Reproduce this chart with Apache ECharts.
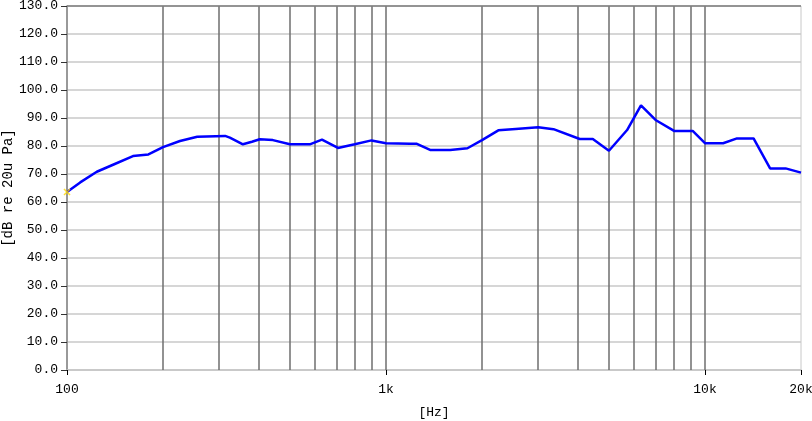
<!DOCTYPE html>
<html>
<head>
<meta charset="utf-8">
<script src="https://cdn.jsdelivr.net/npm/echarts@6/dist/echarts.min.js"></script>
<style>html,body{margin:0;padding:0;background:#fff}#c{width:812px;height:421px}</style>
</head>
<body>
<div id="c"></div>
<script>
const freqs = [100, 110, 124, 140, 161, 180, 200, 226, 256, 313, 324, 356, 380, 402, 442, 500, 577, 630, 707, 798, 901, 1000, 1190, 1250, 1375, 1590, 1800, 2000, 2250, 2550, 3000, 3350, 4050, 4450, 5000, 5700, 6300, 7000, 8000, 9150, 10000, 11400, 12600, 14200, 16000, 17900, 20000];
const spl = [63.6, 67.0, 70.8, 73.4, 76.4, 77.0, 79.6, 81.8, 83.3, 83.6, 83.0, 80.6, 81.5, 82.4, 82.1, 80.6, 80.6, 82.3, 79.3, 80.6, 82.0, 81.0, 80.8, 80.8, 78.6, 78.6, 79.2, 82.1, 85.6, 86.1, 86.7, 86.0, 82.5, 82.5, 78.3, 85.7, 94.5, 89.3, 85.4, 85.4, 81.0, 81.0, 82.7, 82.7, 72.0, 72.0, 70.5];
const gridFreqs = [200, 300, 400, 500, 600, 700, 800, 900, 1000, 2000, 3000, 4000, 5000, 6000, 7000, 8000, 9000, 10000];
const xTickLabels = [100, 1000, 10000, 20000];
const yMin = 0, yMax = 130, yStep = 10;
const xName = '[Hz]';
const yName = '[dB re 20u Pa]';
const cursor = [[100, 63.6]];

const font = 'Liberation Mono';
const chart = echarts.init(document.getElementById('c'));
chart.setOption({
  animation: false,
  grid: { left: 67, right: 11, top: 6, bottom: 51, show: true, borderColor: '#c8c8c8', borderWidth: 1, outerBoundsMode: 'none', containLabel: false },
  xAxis: {
    type: 'log', logBase: 10, min: 100, max: 20000,
    name: xName, nameLocation: 'middle', nameGap: 36, nameMoveOverlap: false,
    nameTextStyle: { fontFamily: font, fontSize: 13, color: '#000' },
    axisLine: { show: true, lineStyle: { color: '#c8c8c8', width: 1.5 } },
    axisTick: { show: true, length: 5, customValues: xTickLabels, lineStyle: { color: '#000', width: 1 } },
    axisLabel: {
      customValues: xTickLabels, margin: 13,
      fontFamily: font, fontSize: 13, color: '#000',
      formatter: v => v >= 1000 ? (v / 1000) + 'k' : String(v)
    },
    splitLine: { show: false },
    minorSplitLine: { show: false }
  },
  yAxis: {
    type: 'value', min: yMin, max: yMax, interval: yStep,
    name: yName, nameLocation: 'middle', nameGap: 52, nameMoveOverlap: false,
    nameTextStyle: { fontFamily: font, fontSize: 14, color: '#000' },
    axisLine: { show: true, lineStyle: { color: '#808080', width: 1.5 } },
    axisTick: { show: true, length: 6, lineStyle: { color: '#333', width: 1 } },
    axisLabel: { margin: 9, fontFamily: font, fontSize: 13, color: '#000', formatter: v => v.toFixed(1) },
    splitLine: { show: true, lineStyle: { color: '#c8c8c8', width: 1.5 } }
  },
  series: [
    {
      type: 'line',
      data: freqs.map((f, i) => [f, spl[i]]),
      symbol: 'none',
      lineStyle: { color: '#0000ff', width: 2.5 },
      z: 5,
      markLine: {
        silent: true, symbol: ['none', 'none'], label: { show: false },
        lineStyle: { color: '#6e6e6e', width: 1.5, type: 'solid' },
        data: gridFreqs.map(f => ({ xAxis: f })).concat([{ yAxis: yMax, lineStyle: { color: '#808080', width: 1.5, type: 'solid' } }])
      }
    },
    {
      type: 'scatter',
      data: cursor,
      symbol: 'path://M0,0L10,10M10,0L0,10',
      symbolSize: 6,
      itemStyle: { color: 'none', borderColor: '#ffd800', borderWidth: 1.5 },
      z: 6
    }
  ]
});
</script>
</body>
</html>
